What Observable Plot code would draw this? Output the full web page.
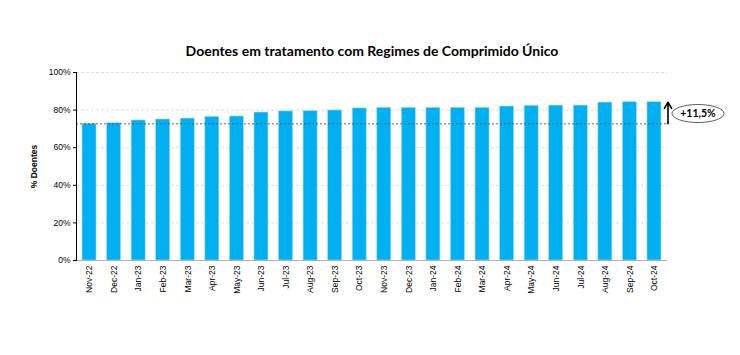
<!DOCTYPE html>
<html><head><meta charset="utf-8">
<script src="https://cdn.jsdelivr.net/npm/d3@7"></script>
<script src="https://cdn.jsdelivr.net/npm/@observablehq/plot@0.6"></script>
<style>
body{margin:0;background:#fff;}
#wrap{position:relative;width:740px;height:355px;}
#title{position:absolute;left:0;top:42px;width:744px;text-align:center;font:bold 14px Lato,"Open Sans",sans-serif;color:#000;}
</style></head>
<body><div id="wrap"><div id="title">Doentes em tratamento com Regimes de Comprimido Único</div><div id="chart"></div></div>
<script>
const months = ["Nov-22","Dec-22","Jan-23","Feb-23","Mar-23","Apr-23","May-23","Jun-23","Jul-23","Aug-23","Sep-23","Oct-23","Nov-23","Dec-23","Jan-24","Feb-24","Mar-24","Apr-24","May-24","Jun-24","Jul-24","Aug-24","Sep-24","Oct-24"];
const pct = [72.7,73.0,74.5,75.0,75.5,76.4,76.6,78.7,79.3,79.4,79.8,80.9,81.2,81.2,81.2,81.2,81.2,81.9,82.3,82.4,82.4,84.0,84.2,84.2];
const yTicks = [0,0.2,0.4,0.6,0.8,1.0];
const changeLabel = "+11,5%";

const data = months.map((m,i)=>({month:m, value:pct[i]/100}));
const first = data[0].value, last = data[data.length-1].value;

const ellipseMark = (index, scales) => {
  const cx = scales.x(months[months.length-1]) + scales.x.bandwidth()/2 + 44;
  const cy = scales.y((first+last)/2) + 1;
  const g = d3.create("svg:g");
  g.append("ellipse").attr("cx",cx).attr("cy",cy).attr("rx",26).attr("ry",9)
    .attr("fill","white").attr("stroke","#333").attr("stroke-width",0.8);
  g.append("text").attr("x",cx).attr("y",cy).attr("dy","0.35em").attr("text-anchor","middle")
    .attr("font-weight","bold").attr("font-size","10.5px").attr("font-family","Lato, sans-serif").text(changeLabel);
  return g.node();
};

const chart = Plot.plot({
  width:740, height:355,
  marginLeft:76, marginRight:73, marginTop:72, marginBottom:95,
  style:{fontFamily:"'Liberation Sans', Arial, sans-serif", fontSize:"8.5px", color:"#000", background:"transparent"},
  x:{type:"band", domain:months, paddingInner:0.43, paddingOuter:0.245, round:false, label:null, tickSize:0, tickRotate:-90, tickPadding:5},
  y:{domain:[0,1], ticks:yTicks, tickFormat:d3.format(".0%"), tickSize:3, tickPadding:3,
     label:"% Doentes", labelAnchor:"center", labelArrow:false, labelOffset:46},
  marks:[
    Plot.gridY(yTicks.slice(1), {stroke:"#dcdcdc", strokeOpacity:1, strokeDasharray:"3,2"}),
    Plot.barY(data, {x:"month", y:"value", fill:"#00B0F0", stroke:"#9fdcf5", strokeWidth:0.6}),
    Plot.ruleY([0], {stroke:"#b0b0b0", strokeWidth:1.2}),
    Plot.ruleY([first], {stroke:"#555", strokeDasharray:"2,2", strokeWidth:0.9}),
    Plot.frame({anchor:"left", stroke:"#000"}),
    Plot.arrow([{x:months[months.length-1]}], {x:"x", y1:first, y2:last, dx:13.5, stroke:"#000", strokeWidth:1.6, headLength:7, bend:0}),
    ellipseMark
  ]
});
chart.querySelectorAll("[aria-label='y-axis label'] text, g[aria-label='y-axis label']").forEach(n=>n.setAttribute("font-weight","bold"));
document.getElementById("chart").appendChild(chart);
</script></body></html>
